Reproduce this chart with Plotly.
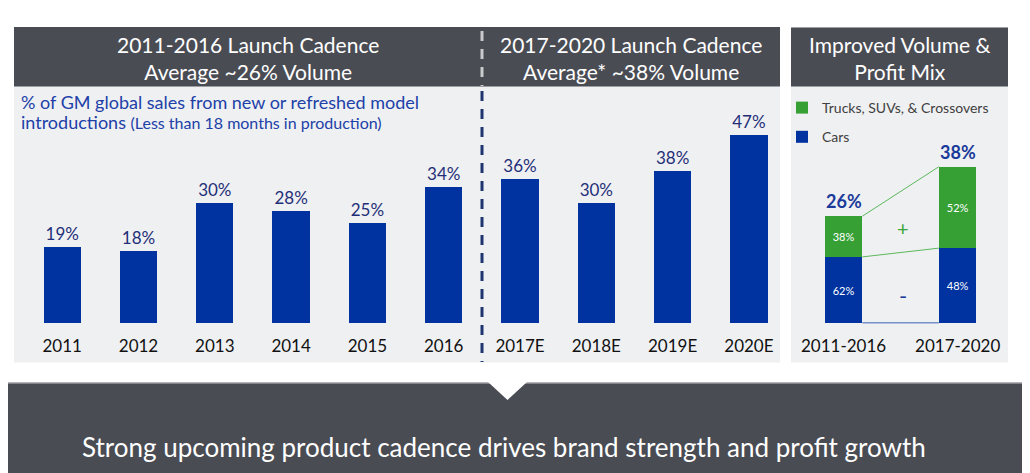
import plotly.graph_objects as go

# ---------------- data ----------------
years = ["2011", "2012", "2013", "2014", "2015", "2016", "2017E", "2018E", "2019E", "2020E"]
launch_share = [19, 18, 30, 28, 25, 34, 36, 30, 38, 47]

periods = ["2011-2016", "2017-2020"]
period_avg = [26, 38]
trucks_mix = [38, 52]   # % of the period volume
cars_mix = [62, 48]

# the page body has an 8px margin, so the figure is drawn 8px in from the top-left
OFF = 8
W, H = 1030 - OFF, 473 - OFF
NAVY = "#0033a0"
GREEN = "#36a035"
DARK = "#4a4c54"
PANEL = "#eff0f2"
LABEL = "#1f2f78"
FONT = "Lato"


def px(x):
    return (x - OFF) / W


def py(y):
    return 1 - (y - OFF) / H


cars_val = [a * c / 100 for a, c in zip(period_avg, cars_mix)]
trucks_val = [a * t / 100 for a, t in zip(period_avg, trucks_mix)]

fig = go.Figure()

fig.add_trace(go.Bar(
    x=years, y=launch_share, width=0.49,
    marker=dict(color=NAVY, line=dict(width=0)),
    text=[f"{v}%" for v in launch_share], textposition="outside",
    textfont=dict(family=FONT, size=17, color=LABEL),
    constraintext="none", cliponaxis=False, showlegend=False,
    xaxis="x", yaxis="y",
))

fig.add_trace(go.Bar(
    x=periods, y=cars_val, width=0.33, name="Cars",
    marker=dict(color=NAVY, line=dict(width=0)),
    text=[f"{v}%" for v in cars_mix], textposition="inside", insidetextanchor="middle",
    textfont=dict(family=FONT, size=11, color="white"), constraintext="none",
    legendgroup="cars", legendrank=2, xaxis="x2", yaxis="y2",
))
fig.add_trace(go.Bar(
    x=periods, y=trucks_val, width=0.33, name="Trucks, SUVs, & Crossovers",
    marker=dict(color=GREEN, line=dict(width=0)),
    text=[f"{v}%" for v in trucks_mix], textposition="inside", insidetextanchor="middle",
    textfont=dict(family=FONT, size=11, color="white"), constraintext="none",
    legendgroup="trucks", legendrank=1, xaxis="x2", yaxis="y2",
))

shapes = []
# panel backgrounds
shapes.append(dict(type="rect", xref="paper", yref="paper", x0=px(14), x1=px(780), y0=py(362.5), y1=py(27),
                   fillcolor=PANEL, line=dict(width=0), layer="below"))
shapes.append(dict(type="rect", xref="paper", yref="paper", x0=px(791), x1=px(1008), y0=py(362.5), y1=py(27.5),
                   fillcolor=PANEL, line=dict(width=0), layer="below"))
# headers
shapes.append(dict(type="rect", xref="paper", yref="paper", x0=px(14), x1=px(780), y0=py(86.5), y1=py(27),
                   fillcolor=DARK, line=dict(width=0), layer="below"))
shapes.append(dict(type="rect", xref="paper", yref="paper", x0=px(791), x1=px(1008), y0=py(86.5), y1=py(27.5),
                   fillcolor=DARK, line=dict(width=0), layer="below"))
# dashed divider
shapes.append(dict(type="line", xref="paper", yref="paper", x0=px(482), x1=px(482), y0=py(31), y1=py(86),
                   line=dict(color="#c9cacc", width=3, dash="10px,8px"), layer="above"))
shapes.append(dict(type="line", xref="paper", yref="paper", x0=px(482), x1=px(482), y0=py(91), y1=py(362),
                   line=dict(color="#1f3570", width=3, dash="10px,8px"), layer="above"))
# bottom banner
shapes.append(dict(type="rect", xref="paper", yref="paper", x0=0, x1=1, y0=0, y1=py(383),
                   fillcolor=DARK, line=dict(width=0), layer="below"))
shapes.append(dict(type="line", xref="paper", yref="paper", x0=0, x1=1, y0=py(383), y1=py(383),
                   line=dict(color="#9a9ba0", width=1.5), layer="below"))
shapes.append(dict(type="path", xref="paper", yref="paper",
                   path=f"M {px(488)},{py(382)} L {px(527)},{py(382)} L {px(507.5)},{py(400)} Z",
                   fillcolor="white", line=dict(width=0), layer="above"))

# connector lines between the stacked bars (from data)
hw = 0.33 / 2
shapes.append(dict(type="line", xref="x2", yref="y2", x0=0 + hw, x1=1 - hw,
                   y0=period_avg[0], y1=period_avg[1], line=dict(color="#5cb85c", width=1)))
shapes.append(dict(type="line", xref="x2", yref="y2", x0=0 + hw, x1=1 - hw,
                   y0=cars_val[0], y1=cars_val[1], line=dict(color="#5cb85c", width=1)))
shapes.append(dict(type="line", xref="x2", yref="y2", x0=0 + hw, x1=1 - hw,
                   y0=0, y1=0, line=dict(color=NAVY, width=1.5)))

annotations = []
hdr_font = dict(family=FONT, size=21, color="white")
annotations.append(dict(xref="paper", yref="paper", x=px(247.5), y=py(57.5), text="2011-2016 Launch Cadence<br>Average ~26% Volume",
                        showarrow=False, font=hdr_font, xanchor="center", yanchor="middle"))
annotations.append(dict(xref="paper", yref="paper", x=px(631), y=py(57.5), text="2017-2020 Launch Cadence<br>Average* ~38% Volume",
                        showarrow=False, font=hdr_font, xanchor="center", yanchor="middle"))
annotations.append(dict(xref="paper", yref="paper", x=px(899.5), y=py(58), text="Improved Volume &<br>Profit Mix",
                        showarrow=False, font=hdr_font, xanchor="center", yanchor="middle"))
sub_font = dict(family=FONT, size=18, color="#2040a8")
annotations.append(dict(xref="paper", yref="paper", x=px(19), y=py(101.7), align="left",
                        text="% of GM global sales from new or refreshed model",
                        showarrow=False, font=sub_font, xanchor="left", yanchor="middle"))
annotations.append(dict(xref="paper", yref="paper", x=px(19), y=py(122), align="left",
                        text="introductions <span style='font-size:16px'>(Less than 18 months in production)</span>",
                        showarrow=False, font=sub_font, xanchor="left", yanchor="middle"))
annotations.append(dict(xref="paper", yref="paper", x=px(504), y=py(447),
                        text="Strong upcoming product cadence drives brand strength and profit growth",
                        showarrow=False, font=dict(family=FONT, size=26, color="white"), xanchor="center", yanchor="middle"))
for p, a in zip(periods, period_avg):
    annotations.append(dict(xref="x2", yref="y2", x=p, y=a, text=f"<b>{a}%</b>", showarrow=False,
                            font=dict(family=FONT, size=18, color="#1a3a9a"), xanchor="center", yanchor="bottom", yshift=2))
annotations.append(dict(xref="paper", yref="paper", x=px(903), y=py(228), text="+", showarrow=False,
                        font=dict(family=FONT, size=20, color="#3aa53a"), xanchor="center", yanchor="middle"))
annotations.append(dict(xref="paper", yref="paper", x=px(903), y=py(295), text="-", showarrow=False,
                        font=dict(family=FONT, size=22, color="#1a3a9a"), xanchor="center", yanchor="middle"))

ydom = [py(323.3), py(123.3)]
fig.update_layout(
    width=W, height=H, margin=dict(l=0, r=0, t=0, b=0),
    paper_bgcolor="white", plot_bgcolor="rgba(0,0,0,0)",
    barmode="stack", font=dict(family=FONT),
    xaxis=dict(domain=[px(24.05), px(787.05)], range=[-0.5, 9.5], type="category",
               showgrid=False, zeroline=False, showline=False, ticks="", ticklabelstandoff=11,
               tickfont=dict(family=FONT, size=17, color="#111111"), fixedrange=True),
    yaxis=dict(domain=ydom, range=[0, 50], visible=False, fixedrange=True),
    xaxis2=dict(domain=[px(786.5), px(1014.7)], range=[-0.5, 1.5], type="category", anchor="y2",
                showgrid=False, zeroline=False, showline=False, ticks="", ticklabelstandoff=11,
                tickfont=dict(family=FONT, size=17, color="#111111"), fixedrange=True),
    yaxis2=dict(domain=ydom, range=[0, 200 / 4.12], visible=False, anchor="x2", fixedrange=True),
    legend=dict(x=px(782), y=py(92), xanchor="left", yanchor="top", bgcolor="rgba(0,0,0,0)",
                font=dict(family=FONT, size=14, color="#404040"), traceorder="grouped",
                tracegroupgap=8, itemwidth=30),
    shapes=shapes, annotations=annotations,
)

fig.write_html("out.html")
